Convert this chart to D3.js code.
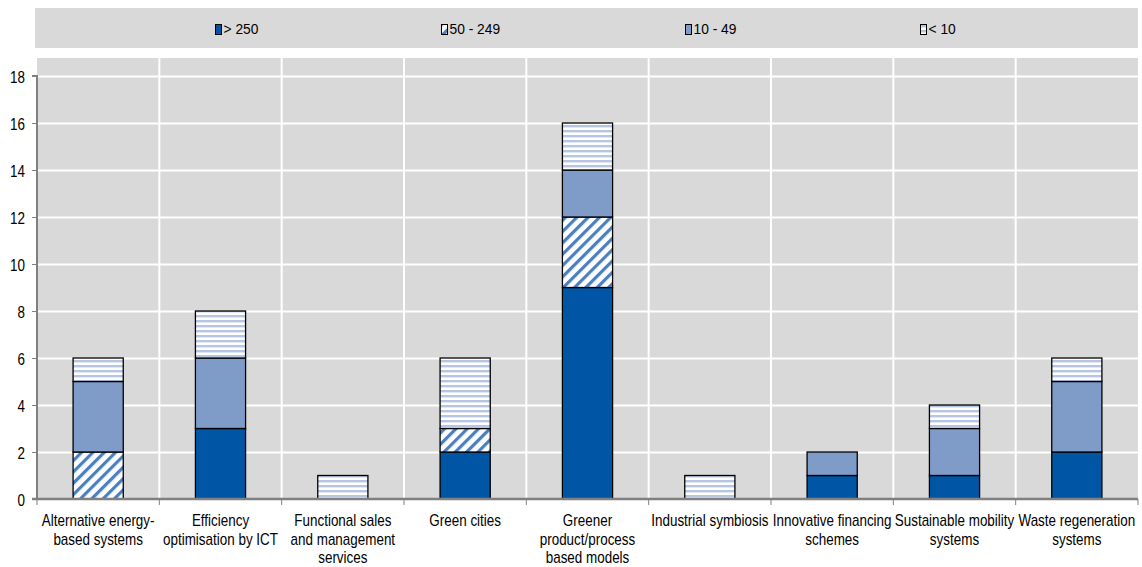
<!DOCTYPE html>
<html>
<head>
<meta charset="utf-8">
<script src="https://cdn.jsdelivr.net/npm/d3@7"></script>
<style>
  html, body { margin: 0; padding: 0; background: #ffffff; }
  svg { display: block; }
  text { font-family: "Liberation Sans", Arial, sans-serif; fill: #000; }
</style>
</head>
<body>
<svg id="chart" width="1142" height="567"></svg>
<script>
// Circular-economy business models by firm size (number of firms)
const categories = [
  "Alternative energy-based systems",
  "Efficiency optimisation by ICT",
  "Functional sales and management services",
  "Green cities",
  "Greener product/process based models",
  "Industrial symbiosis",
  "Innovative financing schemes",
  "Sustainable mobility systems",
  "Waste regeneration systems"
];
const categoryLines = [
  ["Alternative energy-", "based systems"],
  ["Efficiency", "optimisation by ICT"],
  ["Functional sales", "and management", "services"],
  ["Green cities"],
  ["Greener", "product/process", "based models"],
  ["Industrial symbiosis"],
  ["Innovative financing", "schemes"],
  ["Sustainable mobility", "systems"],
  ["Waste regeneration", "systems"]
];
const seriesNames = ["> 250", "50 - 249", "10 - 49", "< 10"];
const over250   = [0, 3, 0, 2, 9, 0, 1, 1, 2];
const from50to249 = [2, 0, 0, 1, 3, 0, 0, 0, 0];
const from10to49  = [3, 3, 0, 0, 2, 0, 1, 2, 3];
const under10   = [1, 2, 1, 3, 2, 1, 0, 1, 1];
const yTicks = [0, 2, 4, 6, 8, 10, 12, 14, 16, 18];

const seriesValues = [over250, from50to249, from10to49, under10];
const rows = categories.map((c, i) => {
  const r = { category: c };
  seriesNames.forEach((s, k) => { r[s] = seriesValues[k][i]; });
  return r;
});

const svg = d3.select("#chart");
const plotL = 37, plotR = 1138, plotT = 76, plotB = 499, bgTop = 58;
const squeeze = 0.84; // condensed lettering

// fills
const defs = svg.append("defs");
const diag = defs.append("pattern")
  .attr("id", "diag").attr("patternUnits", "userSpaceOnUse")
  .attr("width", 8).attr("height", 8)
  .attr("patternTransform", "rotate(45)");
diag.append("rect").attr("width", 8).attr("height", 8).attr("fill", "#ffffff");
diag.append("rect").attr("x", 0).attr("width", 3.2).attr("height", 8).attr("fill", "#4a7fc0");

const horiz = defs.append("pattern")
  .attr("id", "horiz").attr("patternUnits", "userSpaceOnUse")
  .attr("width", 10).attr("height", 5);
horiz.append("rect").attr("width", 10).attr("height", 5).attr("fill", "#ffffff");
horiz.append("rect").attr("y", 0).attr("width", 10).attr("height", 2.4).attr("fill", "#b6c5e2");

const fills = {
  "> 250": "#0055a5",
  "50 - 249": "url(#diag)",
  "10 - 49": "#7f9cc9",
  "< 10": "url(#horiz)"
};

// legend band
svg.append("rect").attr("x", 35).attr("y", 8).attr("width", 1103).attr("height", 40).attr("fill", "#d9d9d9");
const legendX = [215, 441, 685, 920];
seriesNames.forEach((s, k) => {
  svg.append("rect").attr("x", legendX[k] + 0.5).attr("y", 24.5).attr("width", 6).attr("height", 10)
    .attr("fill", fills[s]).attr("stroke", "#000").attr("stroke-width", 1);
  svg.append("text").attr("transform", `translate(${legendX[k] + 8.5},34) scale(0.92,1)`)
    .attr("font-size", 15).text(s);
});

// plot area
svg.append("rect").attr("x", plotL).attr("y", bgTop).attr("width", plotR - plotL).attr("height", plotB - bgTop).attr("fill", "#d9d9d9");

const x = d3.scaleBand().domain(categories).range([plotL, plotR]).paddingInner(0.59).paddingOuter(0.295);
const y = d3.scaleLinear().domain([0, 18]).range([plotB, plotT]);
const step = x.step();

// grid
svg.append("g").selectAll("line").data(yTicks.filter(t => t > 0)).join("line")
  .attr("x1", plotL).attr("x2", plotR)
  .attr("y1", d => Math.round(y(d)) + 0.5).attr("y2", d => Math.round(y(d)) + 0.5)
  .attr("stroke", "#ffffff").attr("stroke-width", 2);
svg.append("g").selectAll("line").data(d3.range(1, categories.length)).join("line")
  .attr("x1", d => plotL + d * step).attr("x2", d => plotL + d * step)
  .attr("y1", bgTop).attr("y2", plotB)
  .attr("stroke", "#ffffff").attr("stroke-width", 2);

// stacked bars
const stack = d3.stack().keys(seriesNames);
const layers = stack(rows);
svg.append("g").selectAll("g").data(layers).join("g")
  .attr("fill", d => fills[d.key])
  .selectAll("rect").data(d => d.filter(p => p[1] - p[0] > 0)).join("rect")
  .attr("x", d => x(d.data.category))
  .attr("width", x.bandwidth())
  .attr("y", d => y(d[1]))
  .attr("height", d => y(d[0]) - y(d[1]))
  .attr("stroke", "#000").attr("stroke-width", 1.3);

// axes
const yAxis = d3.axisLeft(y).tickValues(yTicks).tickSize(5).tickPadding(8);
const gy = svg.append("g").attr("transform", `translate(${plotL},0)`).call(yAxis);
gy.select(".domain").attr("stroke", "#808080").attr("stroke-width", 2).attr("d", `M-5,${plotT}H0V${plotB}`);
gy.selectAll(".tick line").attr("stroke", "#808080").attr("stroke-width", 1);
gy.selectAll(".tick text")
  .attr("font-size", 16).attr("font-family", null).attr("fill", "#000")
  .attr("x", null).attr("dy", null).attr("text-anchor", "end")
  .attr("transform", `translate(-12,6) scale(${squeeze},1)`);

const gx = svg.append("g");
gx.append("line").attr("x1", plotL - 5).attr("x2", plotR).attr("y1", plotB).attr("y2", plotB)
  .attr("stroke", "#808080").attr("stroke-width", 2.5);
gx.selectAll("line.tk").data(d3.range(0, categories.length + 1)).join("line").attr("class", "tk")
  .attr("x1", d => plotL + d * step).attr("x2", d => plotL + d * step)
  .attr("y1", plotB).attr("y2", plotB + 6)
  .attr("stroke", "#808080").attr("stroke-width", 1);

const labels = gx.selectAll("text.cat").data(categories).join("text").attr("class", "cat")
  .attr("text-anchor", "middle").attr("font-size", 16)
  .attr("transform", d => `translate(${x(d) + x.bandwidth() / 2},526) scale(${squeeze},1)`);
labels.each(function(d, i) {
  d3.select(this).selectAll("tspan").data(categoryLines[i]).join("tspan")
    .attr("x", 0)
    .attr("dy", (t, j) => j === 0 ? 0 : 18.6)
    .text(t => t);
});
</script>
</body>
</html>
